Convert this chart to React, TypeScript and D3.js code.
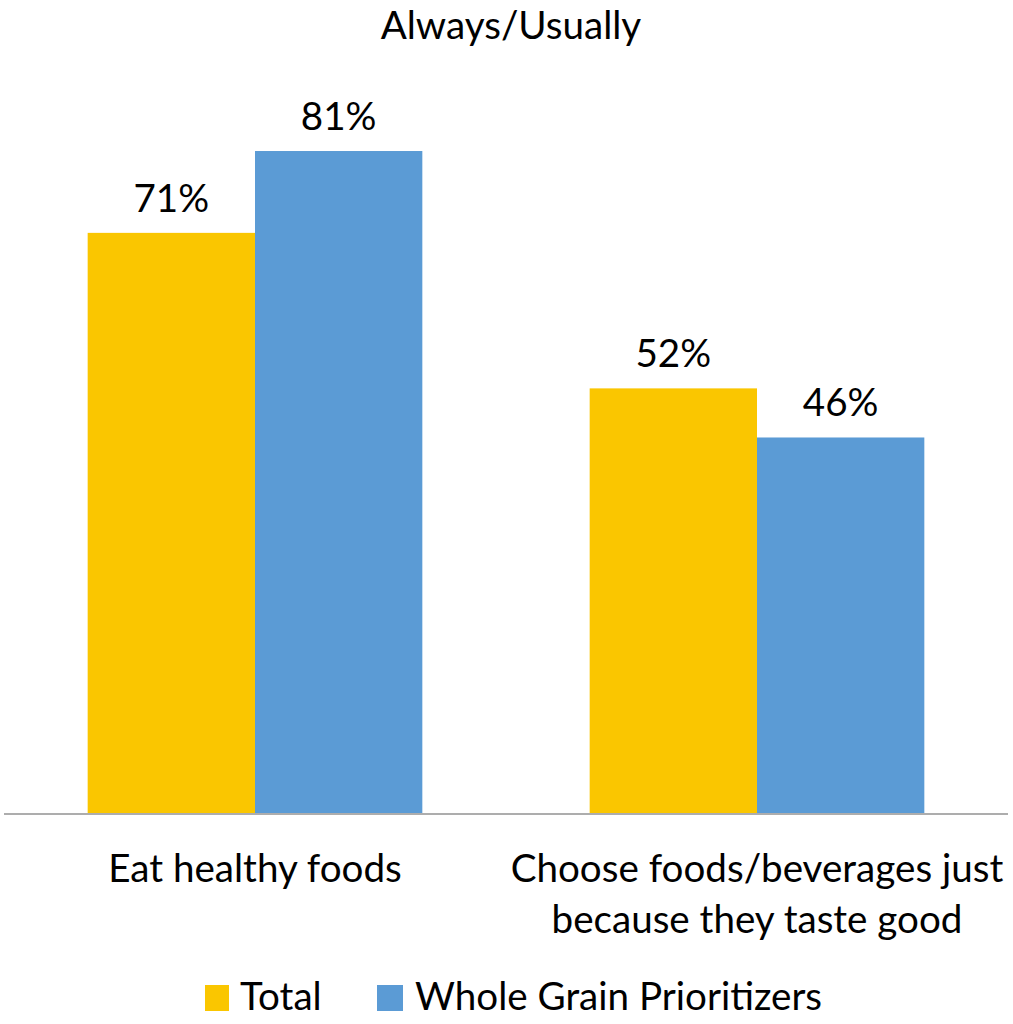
import React from "react";
import * as d3 from "d3";

const categories = ["Eat healthy foods", "Choose foods/beverages just|because they taste good"];
const seriesNames = ["Total", "Whole Grain Prioritizers"];
const totalValues = [71, 52];
const wgpValues = [81, 46];
const colors = ["#FAC600", "#5B9BD5"];
const title = "Always/Usually";

export default function App() {
  const W = 1013, H = 1024;
  const left = 4, right = 1008, base = 814;
  const fs = 38.6;
  const x0 = d3.scaleBand<string>().domain(categories).range([left, right]).paddingInner(0).paddingOuter(0);
  const y = d3.scaleLinear().domain([0, 100]).range([base, base - 818.5]);
  const band = x0.bandwidth();
  const groupW = band * (2 / 3);
  const x1 = d3.scaleBand<string>().domain(seriesNames).range([0, groupW]);
  const series = [totalValues, wgpValues];
  const font = "Lato, 'Open Sans', sans-serif";
  return (
    <svg width={W} height={H} style={{ position: "absolute", left: 0, top: 0 }} fontFamily={font}>
      <rect width={W} height={H} fill="#fff" />
      <text x={511} y={39} textAnchor="middle" fontSize={fs} fill="#000">{title}</text>
      {categories.map((c, ci) => {
        const gx = (x0(c) as number) + (band - groupW) / 2;
        return (
          <g key={c}>
            {seriesNames.map((s, si) => {
              const v = series[si][ci];
              const bx = gx + (x1(s) as number);
              return (
                <g key={s}>
                  <rect x={bx} y={y(v)} width={x1.bandwidth()} height={base - y(v)} fill={colors[si]} />
                  <text x={bx + x1.bandwidth() / 2} y={y(v) - 21} textAnchor="middle" fontSize={fs} fill="#000">{v}%</text>
                </g>
              );
            })}
            {c.split("|").map((line, li) => (
              <text key={li} x={(x0(c) as number) + band / 2} y={882 + li * 51} textAnchor="middle" fontSize={fs} fill="#000">{line}</text>
            ))}
          </g>
        );
      })}
      <line x1={left} x2={right} y1={base} y2={base} stroke="#ADADAD" strokeWidth={2} />
      <g>
        <rect x={205} y={985} width={24} height={26} fill={colors[0]} />
        <text x={240} y={1010} fontSize={fs} fill="#000">{seriesNames[0]}</text>
        <rect x={377} y={985} width={26} height={26} fill={colors[1]} />
        <text x={415} y={1010} fontSize={fs} fill="#000">{seriesNames[1]}</text>
      </g>
    </svg>
  );
}
